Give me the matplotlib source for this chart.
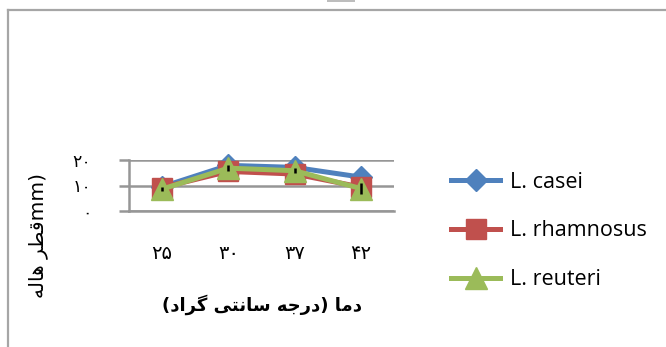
import matplotlib
matplotlib.use("Agg")
import matplotlib.pyplot as plt
from matplotlib.lines import Line2D
from matplotlib.patches import Rectangle

# ---- data -------------------------------------------------------------
temperatures = ["۲۵", "۳۰", "۳۷", "۴۲"]
casei = [9.5, 17.9, 17.1, 13.3]
rhamnosus = [9.2, 15.5, 14.5, 9.4]
reuteri = [8.6, 16.8, 15.8, 8.8]
reuteri_err = [0.8, 1.2, 1.0, 2.0]
y_ticks = [0, 10, 20]
y_tick_labels = ["۰", "۱۰", "۲۰"]
series_names = ["L. casei", "L. rhamnosus", "L. reuteri"]

# ---- minimal Arabic-script shaping (presentation forms, visual order) ----
FORMS = {
    'ا': ('\uFE8D', '\uFE8E', None, None),
    'د': ('\uFEA9', '\uFEAA', None, None),
    'ر': ('\uFEAD', '\uFEAE', None, None),
    'م': ('\uFEE1', '\uFEE2', '\uFEE3', '\uFEE4'),
    'ج': ('\uFE9D', '\uFE9E', '\uFE9F', '\uFEA0'),
    'ه': ('\uFEE9', '\uFEEA', '\uFEEB', '\uFEEC'),
    'س': ('\uFEB1', '\uFEB2', '\uFEB3', '\uFEB4'),
    'ن': ('\uFEE5', '\uFEE6', '\uFEE7', '\uFEE8'),
    'ت': ('\uFE95', '\uFE96', '\uFE97', '\uFE98'),
    'ی': ('\uFBFC', '\uFBFD', '\uFBFE', '\uFBFF'),
    'گ': ('\uFB92', '\uFB93', '\uFB94', '\uFB95'),
    'ق': ('\uFED5', '\uFED6', '\uFED7', '\uFED8'),
    'ط': ('\uFEC1', '\uFEC2', '\uFEC3', '\uFEC4'),
    'ل': ('\uFEDD', '\uFEDE', '\uFEDF', '\uFEE0'),
}
MIRROR = {'(': ')', ')': '('}


def joins_forward(ch):
    return ch in FORMS and FORMS[ch][2] is not None


def rtl(text):
    out = []
    for i, ch in enumerate(text):
        if ch not in FORMS:
            out.append(MIRROR.get(ch, ch))
            continue
        prev = text[i - 1] if i > 0 else ''
        nxt = text[i + 1] if i + 1 < len(text) else ''
        left = joins_forward(prev)
        right = joins_forward(ch) and nxt in FORMS
        iso, fin, ini, med = FORMS[ch]
        if left and right:
            g = med
        elif left:
            g = fin
        elif right:
            g = ini
        else:
            g = iso
        out.append(g)
    return ''.join(reversed(out))


x_title = rtl("دما (درجه سانتی گراد)")
y_title = rtl("قطر هاله") + "mm)"

# ---- figure -----------------------------------------------------------
W, H = 666, 347
fig = plt.figure(figsize=(W / 100, H / 100), dpi=100)
fig.patch.set_facecolor("white")

# outer chart frame
frame_col = "#a6a6a6"
fig.add_artist(Line2D([8 / W, 8 / W], [0, 1 - 10 / H], color=frame_col, lw=1.6))
fig.add_artist(Line2D([8 / W, 1], [1 - 10 / H, 1 - 10 / H], color=frame_col, lw=1.6))
fig.add_artist(Rectangle((327 / W, 1 - 2 / H), 28 / W, 2 / H, color="#bdbdbd", lw=0))

ax_left, ax_right, ax_top, ax_bot = 129, 394, 160, 211
ax = fig.add_axes([ax_left / W, 1 - ax_bot / H, (ax_right - ax_left) / W,
                   (ax_bot - ax_top) / H])
ax.set_facecolor("none")

x = list(range(len(temperatures)))
blue, red, green = "#4F81BD", "#C0504D", "#9BBB59"
lw = 3.6

ax.plot(x, casei, color=blue, lw=lw, marker="D", ms=11, zorder=3,
        label=series_names[0], clip_on=False)
ax.plot(x, rhamnosus, color=red, lw=lw, marker="s", ms=15, zorder=4,
        label=series_names[1], clip_on=False)
ax.plot(x, reuteri, color=green, lw=lw, marker="^", ms=16, zorder=5,
        label=series_names[2], clip_on=False)
ax.errorbar(x, reuteri, yerr=reuteri_err, fmt="none", ecolor="black",
            elinewidth=1.8, capsize=0, zorder=6, clip_on=False)

ax.set_xlim(-0.5, len(temperatures) - 0.5)
ax.set_ylim(0, 20)
ax.set_xticks(x)
ax.set_xticklabels(temperatures, fontsize=14, family="DejaVu Sans")
ax.set_yticks(y_ticks)
ax.set_yticklabels(y_tick_labels, fontsize=12.5, family="DejaVu Sans")

grid_col = "#969696"
ax.grid(axis="y", color=grid_col, lw=1.8, zorder=0)
ax.set_axisbelow(True)
for s in ("top", "right"):
    ax.spines[s].set_visible(False)
ax.spines["left"].set_color(grid_col)
ax.spines["left"].set_linewidth(1.8)
ax.spines["bottom"].set_color(grid_col)
ax.spines["bottom"].set_linewidth(1.8)
ax.tick_params(axis="y", length=7, width=1.8, color=grid_col, pad=20)
ax.tick_params(axis="x", length=0, pad=23.5)

fig.text(262 / W, 1 - 305 / H, x_title, ha="center", va="center",
         fontsize=13, fontweight="bold", family="DejaVu Sans")
fig.text(38 / W, 1 - 236 / H, y_title, ha="center", va="center",
         rotation=90, fontsize=14.5, family="DejaVu Sans")

handles, labels = ax.get_legend_handles_labels()
fig.legend(handles, labels, loc="center left",
           bbox_to_anchor=(440 / W, 1 - 231 / H), frameon=False,
           prop={"family": "Open Sans", "size": 15.5}, handlelength=2.3,
           handletextpad=0.45, labelspacing=1.3, borderpad=0)

fig.savefig("out.png", dpi=100, facecolor="white")
